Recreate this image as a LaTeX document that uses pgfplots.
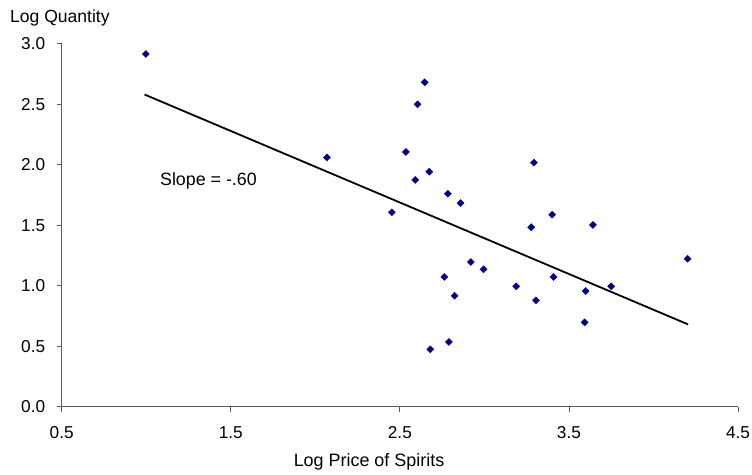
\documentclass[border=0pt]{standalone}
\usepackage{pgfplots}
\pgfplotsset{compat=1.18}
\usepackage{fontspec}
\setmainfont{Liberation Sans}
\definecolor{ptnavy}{RGB}{0,0,128}
\definecolor{axisgray}{RGB}{90,90,90}

% log quantity against log price of spirits
\pgfplotstableread{
x      y
0.998  2.915
2.069  2.060
2.647  2.681
2.605  2.499
2.536  2.105
2.591  1.874
2.674  1.942
2.784  1.760
2.859  1.683
2.453  1.607
3.293  2.017
3.401  1.587
3.277  1.483
3.642  1.502
4.202  1.223
2.920  1.196
2.995  1.135
2.763  1.072
3.409  1.072
3.188  0.995
3.750  0.995
3.599  0.956
2.824  0.917
3.305  0.879
3.593  0.697
2.790  0.535
2.680  0.474
}\spirits

\begin{document}
\begin{tikzpicture}[x=1bp,y=1bp]
\useasboundingbox (0,0) rectangle (752,475);
\begin{axis}[
  at={(61.7bp,68.3bp)}, anchor=south west,
  scale only axis, width=676.3bp, height=363bp,
  xmin=0.5, xmax=4.5, ymin=0, ymax=3,
  axis x line*=bottom, axis y line*=left,
  axis line style={-, draw=axisgray, line width=0.8bp},
  xtick={0.5,1.5,2.5,3.5,4.5},
  ytick={0,0.5,1,1.5,2,2.5,3},
  tick align=outside, major tick length=5bp,
  tick style={draw=axisgray, line width=0.8bp},
  tick label style={font=\fontsize{17.3}{20}\selectfont},
  /pgf/number format/assume math mode=true,
  /pgf/number format/.cd, fixed, fixed zerofill, precision=1, /pgfplots/.cd,
  xticklabel style={yshift=-11bp},
  yticklabel style={xshift=-8bp},
  clip=false,
]
\addplot[only marks, mark=square*, mark size=2.5bp,
  mark options={rotate=45, fill=ptnavy, draw=ptnavy}] table {\spirits};
% fitted regression line
\addplot[black, line width=1.8bp] coordinates {(0.99,2.58) (4.205,0.68)};
\node[font=\fontsize{17.9}{21}\selectfont] at (axis cs:1.368,1.865) {Slope = -.60};
\end{axis}
\node[anchor=west, font=\fontsize{17.6}{21}\selectfont] at (6.7bp,457bp) {Log Quantity};
\node[font=\fontsize{18}{21}\selectfont] at (369bp,13.5bp) {Log Price of Spirits};
\end{tikzpicture}
\end{document}
